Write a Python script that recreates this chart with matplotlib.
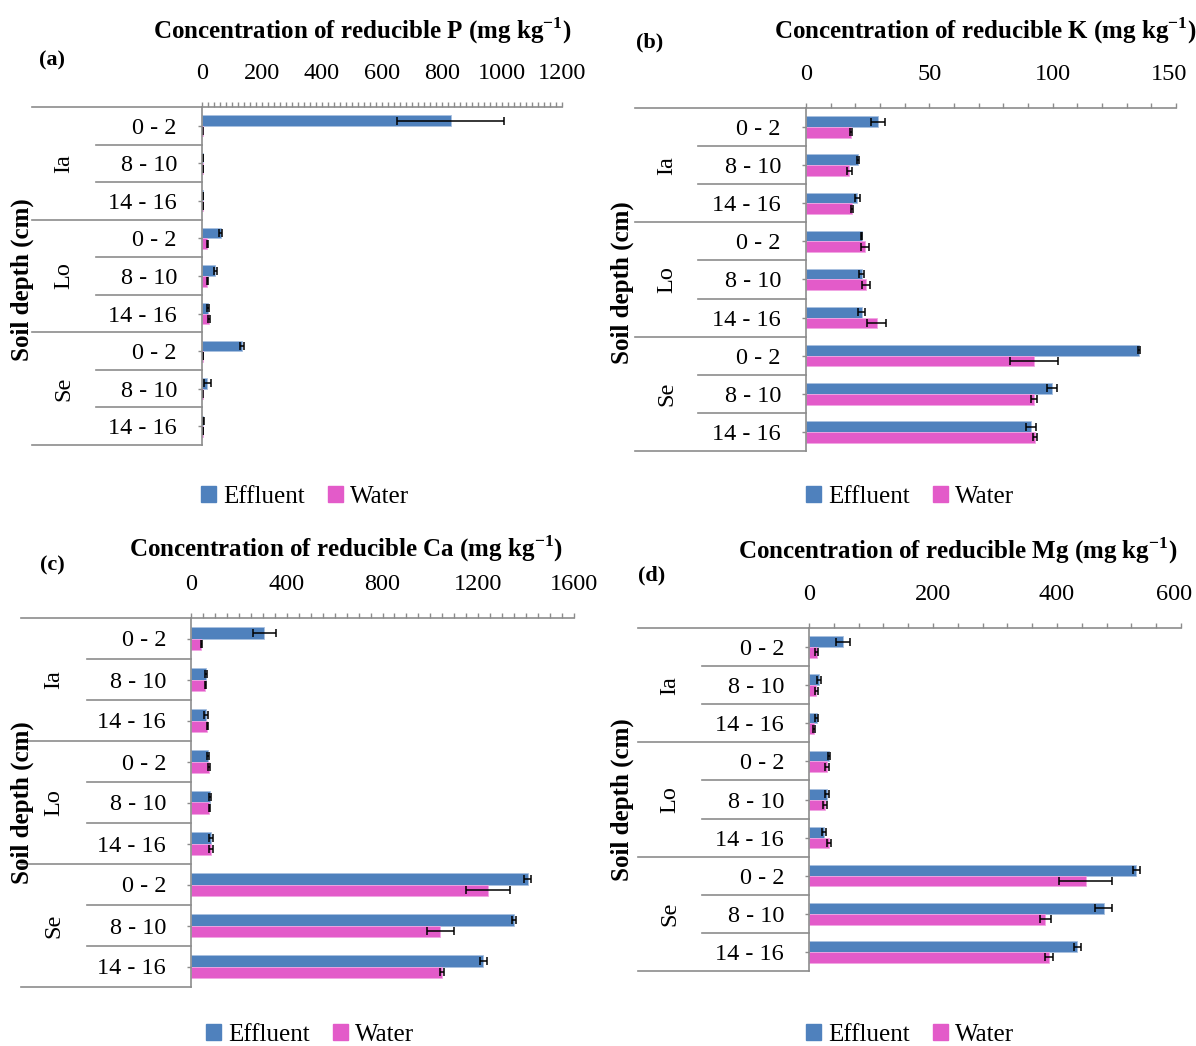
import numpy as np
import matplotlib
matplotlib.use("Agg")
import matplotlib.pyplot as plt
from matplotlib.ticker import MultipleLocator
from matplotlib.transforms import blended_transform_factory, ScaledTranslation
from matplotlib.patches import Patch

plt.rcParams['font.family'] = ['Liberation Serif', 'DejaVu Serif']
plt.rcParams['mathtext.fontset'] = 'custom'
plt.rcParams['mathtext.rm'] = 'Liberation Serif'
plt.rcParams['mathtext.bf'] = 'Liberation Serif:bold'

# soil depth rows, three per site
depths = ["0 - 2", "8 - 10", "14 - 16"] * 3
sites = ["Ia", "Lo", "Se"]
series = ["Effluent", "Water"]

# reducible P (mg/kg)
P_effluent = [829, 3, 3, 63, 44, 19, 133, 18, 4]
P_effluent_err = [178, 1, 1, 5, 5, 3, 6, 11, 1]
P_water = [2, 3, 3, 18, 18, 22, 3, 2, 3]
P_water_err = [1, 1, 1, 3, 3, 3, 1, 1, 1]

# reducible K (mg/kg)
K_effluent = [29.3, 21.0, 20.7, 22.5, 22.5, 22.5, 135.0, 99.7, 91.1]
K_effluent_err = [2.8, 0.4, 1.0, 0.3, 1.0, 1.6, 0.5, 1.9, 2.0]
K_water = [18.3, 17.6, 18.7, 24.0, 24.3, 28.7, 92.4, 92.4, 93.0]
K_water_err = [0.5, 1.0, 0.4, 1.7, 1.5, 3.9, 9.9, 1.3, 0.8]

# reducible Ca (mg/kg)
Ca_effluent = [307, 63, 63, 71, 80, 82, 1407, 1348, 1221]
Ca_effluent_err = [50, 4, 8, 3, 3, 8, 14, 8, 14]
Ca_water = [43, 60, 68, 76, 77, 82, 1241, 1042, 1050]
Ca_water_err = [3, 3, 3, 4, 2, 8, 91, 55, 8]

# reducible Mg (mg/kg)
Mg_effluent = [55, 16, 12.4, 32, 29, 24, 528, 475, 433]
Mg_effluent_err = [11.5, 3, 2, 2, 4, 3, 6, 13.6, 6]
Mg_water = [12.4, 12, 8.7, 29, 26, 32, 446, 381, 387]
Mg_water_err = [2, 2, 1.5, 4, 3, 3, 43, 9, 7]

W, H = 1196, 1046
BLUE = "#4F81BD"
PINK = "#E35BC9"
GRID = "#8C8C8C"

fig = plt.figure(figsize=(W / 100, H / 100), dpi=100)

# layout of each panel in pixels
panels = [
    dict(tag="(a)", el="P", eff=P_effluent, eff_err=P_effluent_err, wat=P_water, wat_err=P_water_err,
         xmax=1200, major=200, minor=20,
         x0=202, x1=562, top=107, bot=445, outer=32, inner=96,
         title=(362, 31), label=(52, 60), ylab=(22, 280), legend=(305, 497)),
    dict(tag="(b)", el="K", eff=K_effluent, eff_err=K_effluent_err, wat=K_water, wat_err=K_water_err,
         xmax=150, major=50, minor=10,
         x0=806, x1=1176, top=108, bot=451, outer=635, inner=698,
         title=(985, 31), label=(650, 42), ylab=(622, 283), legend=(910, 497)),
    dict(tag="(c)", el="Ca", eff=Ca_effluent, eff_err=Ca_effluent_err, wat=Ca_water, wat_err=Ca_water_err,
         xmax=1600, major=400, minor=50,
         x0=191, x1=574, top=618, bot=987, outer=21, inner=87,
         title=(346, 549), label=(52, 565), ylab=(22, 803), legend=(310, 1035)),
    dict(tag="(d)", el="Mg", eff=Mg_effluent, eff_err=Mg_effluent_err, wat=Mg_water, wat_err=Mg_water_err,
         xmax=600, major=200, minor=40,
         x0=809, x1=1181, top=628, bot=971, outer=638, inner=702,
         title=(958, 551), label=(652, 575), ylab=(622, 800), legend=(910, 1035)),
]


def draw_panel(p):
    ax = fig.add_axes([p["x0"] / W, 1 - p["bot"] / H,
                       (p["x1"] - p["x0"]) / W, (p["bot"] - p["top"]) / H])
    y = np.arange(len(depths))
    h = 0.28
    ekw = dict(ecolor="black", elinewidth=1.1, capsize=3.2, capthick=1.1)
    ax.barh(y - h / 2, p["eff"], height=h, color=BLUE, edgecolor="#A9C1E0",
            linewidth=0.6, xerr=p["eff_err"], error_kw=ekw)
    ax.barh(y + h / 2, p["wat"], height=h, color=PINK, edgecolor="#F2A6E3",
            linewidth=0.6, xerr=p["wat_err"], error_kw=ekw)

    ax.set_xlim(0, p["xmax"])
    ax.set_ylim(len(depths) - 0.5, -0.5)
    ax.xaxis.tick_top()
    ax.set_xticks(np.arange(0, p["xmax"] + 1, p["major"]))
    ax.xaxis.set_minor_locator(MultipleLocator(p["minor"]))
    ax.tick_params(axis="x", which="both", direction="out", length=3.6, width=1,
                   color=GRID, labelsize=17.5, pad=13)
    # keep the last label inside the figure edge
    if p["x1"] > 1170:
        last = ax.get_xticklabels()[-1]
        last.set_transform(last.get_transform() + ScaledTranslation(-7 / 100, 0, fig.dpi_scale_trans))
    ax.set_yticks(y)
    ax.set_yticklabels(depths)
    ax.tick_params(axis="y", direction="out", length=3, width=1, color=GRID,
                   labelsize=17.5, pad=15)
    for s in ["right", "bottom"]:
        ax.spines[s].set_visible(False)
    for s in ["top", "left"]:
        ax.spines[s].set_color(GRID)
        ax.spines[s].set_linewidth(1.2)

    # row separators reaching into the label columns
    tr = blended_transform_factory(ax.transAxes, ax.transData)
    span = p["x1"] - p["x0"]
    fo = (p["outer"] - p["x0"]) / span
    fi = (p["inner"] - p["x0"]) / span
    for k in range(len(depths) + 1):
        yy = k - 0.5
        start = fo if k % 3 == 0 else fi
        ax.plot([start, 0], [yy, yy], color=GRID, lw=1.2, transform=tr, clip_on=False)
    for g, name in enumerate(sites):
        ax.text((fo + fi) / 2, g * 3 + 1, name, rotation=90, ha="center", va="center",
                fontsize=17.5, transform=tr)

    tx, ty = p["title"]
    fig.text(tx / W, 1 - ty / H,
             "Concentration of reducible %s (mg kg$^{\\mathbf{-1}}$)" % p["el"],
             ha="center", va="center", fontsize=18, fontweight="bold")
    lx, ly = p["label"]
    fig.text(lx / W, 1 - ly / H, p["tag"], ha="center", va="center",
             fontsize=16, fontweight="bold")
    yx, yy = p["ylab"]
    fig.text(yx / W, 1 - yy / H, "Soil depth (cm)", rotation=90, ha="center",
             va="center", fontsize=18, fontweight="bold")

    handles = [Patch(color=BLUE), Patch(color=PINK)]
    gx, gy = p["legend"]
    fig.legend(handles, series, loc="center", bbox_to_anchor=(gx / W, 1 - gy / H),
               ncol=2, frameon=False, fontsize=18, handlelength=0.6, handleheight=0.6,
               handletextpad=0.3, columnspacing=0.9)


for p in panels:
    draw_panel(p)

fig.savefig("out.png", dpi=100)
